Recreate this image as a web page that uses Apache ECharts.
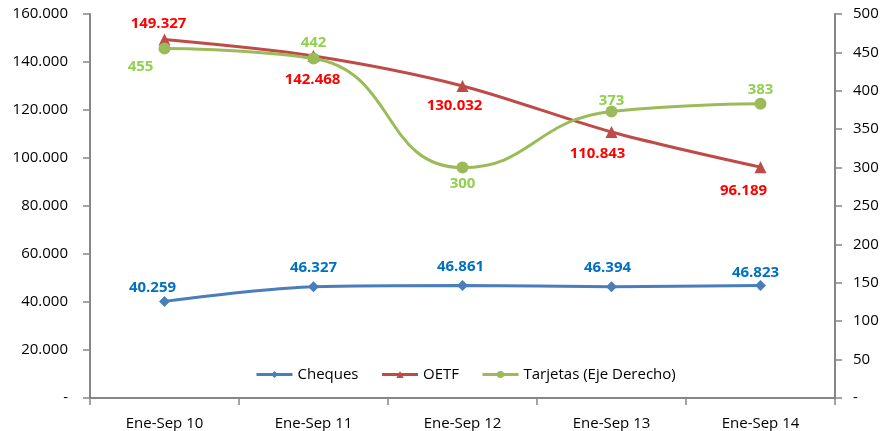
<!DOCTYPE html>
<html>
<head>
<meta charset="utf-8"/>
<title>Cheques, OETF y Tarjetas</title>
<script src="https://cdn.jsdelivr.net/npm/echarts@6/dist/echarts.min.js"></script>
<style>
	* { padding: 0; margin: 0; }
	body { background: #fff; }
	#chart { width: 885px; height: 431px; }
</style>
</head>
<body>
<div id="chart"></div>
<script>
	// datos
	var categories = ['Ene-Sep 10', 'Ene-Sep 11', 'Ene-Sep 12', 'Ene-Sep 13', 'Ene-Sep 14'];
	var cheques = [40259, 46327, 46861, 46394, 46823];
	var oetf = [149327, 142468, 130032, 110843, 96189];
	var tarjetas = [455, 442, 300, 373, 383];

	var FONT = '"Open Sans", "Liberation Sans", sans-serif';

	function fmtLeft(v) {
		if (v === 0) return '-';
		var s = String(Math.round(v));
		return s.replace(/\B(?=(\d{3})+(?!\d))/g, '.');
	}

	// desplazamiento de etiquetas respecto al punto
	var chequesLabel = [[-12, -14], [0, -19], [-2, -19], [-4, -19], [-5, -13]];
	var oetfLabel = [[-6, -16], [-1, 24], [-8, 20], [-14, 22], [-17, 24]];
	var tarjLabel = [[-24, 18], [0, -16], [0, 16], [0, -11], [0, -14]];

	function withOffsets(vals, offs) {
		return vals.map(function (v, i) {
			return { value: v, label: { position: 'inside', offset: offs[i] } };
		});
	}

	var chart = echarts.init(document.getElementById('chart'), null, { renderer: 'canvas' });
	var axisLine = { show: true, lineStyle: { color: '#868686', width: 2 } };
	var tick = { show: true, length: 7, lineStyle: { color: '#868686', width: 1.5 } };
	var option = {
		animation: false,
		textStyle: { fontFamily: FONT },
		grid: { left: 90, right: 50, top: 14, bottom: 33 },
		legend: {
			bottom: 44,
			left: 250,
			itemWidth: 36,
			itemHeight: 9,
			itemGap: 22,
			lineStyle: { width: 3 },
			textStyle: { fontSize: 15, color: '#000', fontFamily: FONT },
			data: ['Cheques', 'OETF', 'Tarjetas (Eje Derecho)']
		},
		xAxis: {
			type: 'category',
			data: categories,
			boundaryGap: true,
			axisLine: axisLine,
			axisTick: tick,
			axisLabel: { fontSize: 15, color: '#000', margin: 18, fontFamily: FONT }
		},
		yAxis: [{
			type: 'value',
			min: 0, max: 160000, interval: 20000,
			axisLine: axisLine,
			axisTick: tick,
			splitLine: { show: false },
			axisLabel: { fontSize: 15, color: '#000', margin: 22, fontFamily: FONT, formatter: fmtLeft }
		}, {
			type: 'value',
			min: 0, max: 500, interval: 50,
			position: 'right',
			axisLine: axisLine,
			axisTick: tick,
			splitLine: { show: false },
			axisLabel: { fontSize: 15, color: '#000', margin: 18, fontFamily: FONT,
				formatter: function (v) { return v === 0 ? '-' : String(v); } }
		}],
		series: [{
			name: 'Cheques',
			type: 'line',
			smooth: 0.3,
			data: withOffsets(cheques, chequesLabel),
			symbol: 'diamond',
			symbolSize: 11,
			itemStyle: { color: '#4A7EBB' },
			lineStyle: { width: 3, color: '#4A7EBB' },
			label: { show: true, color: '#0070C0', fontWeight: 'bold',
				fontSize: 15, fontFamily: FONT, formatter: function (p) { return fmtLeft(p.value); } }
		}, {
			name: 'OETF',
			type: 'line',
			smooth: 0.3,
			data: withOffsets(oetf, oetfLabel),
			symbol: 'triangle',
			symbolSize: 12,
			itemStyle: { color: '#BE4B48' },
			lineStyle: { width: 3, color: '#BE4B48' },
			label: { show: true, color: '#FF0000', fontWeight: 'bold', fontSize: 15, fontFamily: FONT,
				formatter: function (p) { return fmtLeft(p.value); } }
		}, {
			name: 'Tarjetas (Eje Derecho)',
			type: 'line',
			yAxisIndex: 1,
			smooth: 0.5,
			data: withOffsets(tarjetas, tarjLabel),
			symbol: 'circle',
			symbolSize: 12,
			itemStyle: { color: '#9BBB59' },
			lineStyle: { width: 3, color: '#9BBB59' },
			label: { show: true, color: '#92D050', fontWeight: 'bold', fontSize: 15, fontFamily: FONT }
		}]
	};
	chart.setOption(option);
</script>
</body>
</html>
